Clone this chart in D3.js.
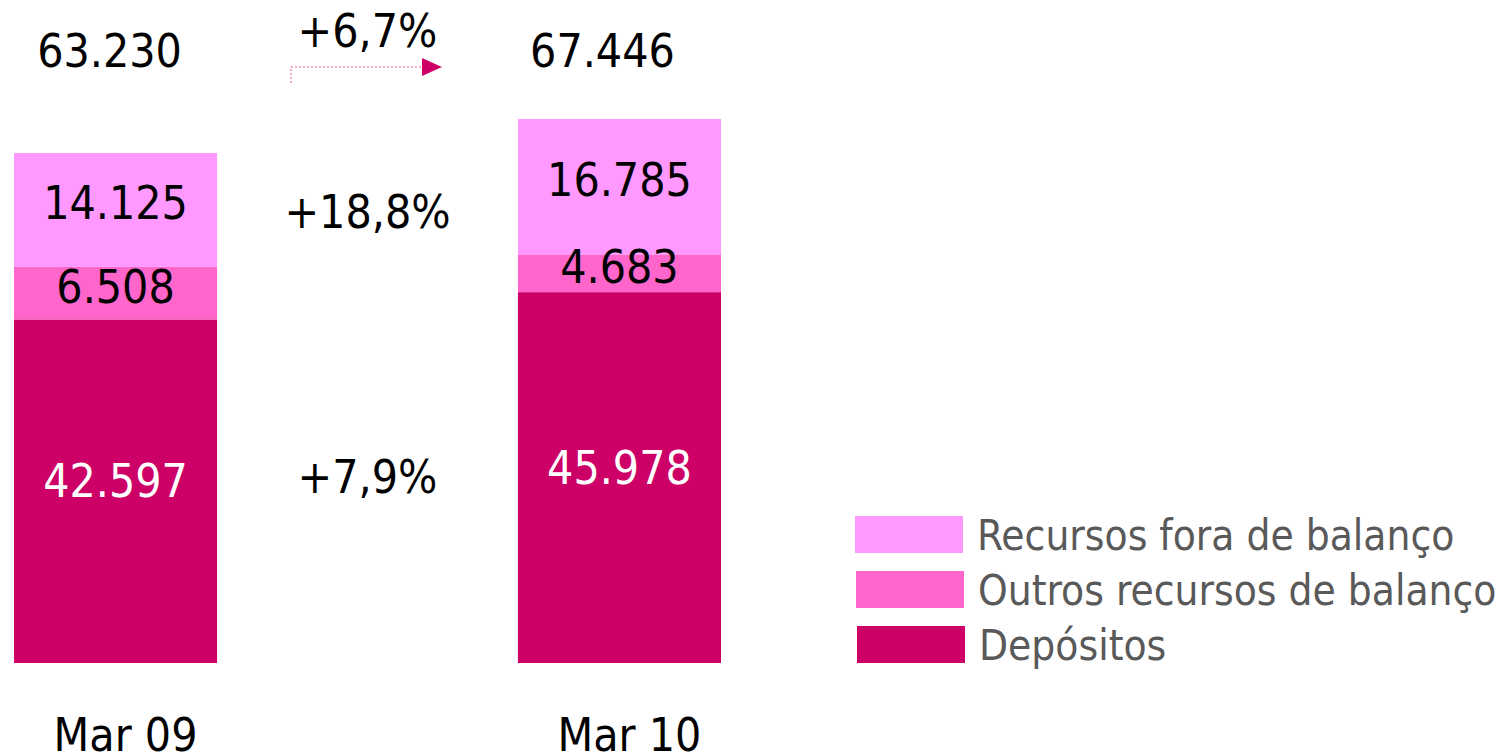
<!DOCTYPE html>
<html>
<head>
<meta charset="utf-8">
<script src="https://cdn.jsdelivr.net/npm/d3@7"></script>
<style>
  body { margin: 0; background: #fff; }
  text { font-family: "Liberation Sans Narrow", "DejaVu Sans Condensed", sans-serif; }
</style>
</head>
<body>
<div id="chart"></div>
<script>
// data
const periods = ["Mar 09", "Mar 10"];
const seriesNames = ["Depósitos", "Outros recursos de balanço", "Recursos fora de balanço"];
const depositos = [42597, 45978];
const outros = [6508, 4683];
const foraBalanco = [14125, 16785];
const totals = ["63.230", "67.446"];
const growthLabels = ["+7,9%", "+18,8%", "+6,7%"];
const colors = ["#CC0066", "#FF66CC", "#FF99FF"];
const labelColors = ["#ffffff", "#000000", "#000000"];

const width = 1503, height = 756;

const svg = d3.select("#chart")
    .append("svg")
    .attr("width", width)
    .attr("height", height);

// build stacked table
const table = periods.map((p, i) => ({
    period: p,
    "Depósitos": depositos[i],
    "Outros recursos de balanço": outros[i],
    "Recursos fora de balanço": foraBalanco[i]
}));
const stacked = d3.stack().keys(seriesNames)(table);

const x = d3.scaleBand()
    .domain(periods)
    .range([14, 721])
    .paddingInner(0.597)
    .paddingOuter(0);

const y = d3.scaleLinear()
    .domain([0, 67446])
    .range([663, 119]);

// bars
const layers = svg.selectAll("g.layer")
    .data(stacked)
    .join("g")
    .attr("class", "layer")
    .attr("fill", (d, i) => colors[i]);

layers.selectAll("rect")
    .data(d => d)
    .join("rect")
    .attr("x", d => x(d.data.period))
    .attr("y", d => y(d[1]))
    .attr("width", x.bandwidth())
    .attr("height", d => y(d[0]) - y(d[1]));

// segment labels
const labelShift = [-10, -6, -7];
stacked.forEach((layer, li) => {
    svg.append("g")
        .selectAll("text")
        .data(layer)
        .join("text")
        .attr("x", d => x(d.data.period) + x.bandwidth() / 2)
        .attr("y", d => (y(d[0]) + y(d[1])) / 2 + labelShift[li])
        .attr("text-anchor", "middle")
        .attr("dominant-baseline", "central")
        .attr("fill", labelColors[li])
        .style("font-size", "46px")
        .text(d => numberWithDots(d[1] - d[0]));
});

// totals above bars
svg.append("g")
    .selectAll("text")
    .data(periods)
    .join("text")
    .attr("x", (d, i) => x(d) + x.bandwidth() / 2 - (i === 0 ? 6 : 17))
    .attr("y", 67)
    .attr("text-anchor", "middle")
    .style("font-size", "46px")
    .attr("fill", "#000")
    .text((d, i) => totals[i]);

// category labels
svg.append("g")
    .selectAll("text")
    .data(periods)
    .join("text")
    .attr("x", d => x(d) + x.bandwidth() / 2 + 10)
    .attr("y", 751)
    .attr("text-anchor", "middle")
    .style("font-size", "46px")
    .attr("fill", "#000")
    .text(d => d);

// growth labels between bars
const midX = (x(periods[0]) + x.bandwidth() + x(periods[1])) / 2;
const growthY = [
    (y(0) + y(depositos[0])) / 2 - 14,
    (y(depositos[0]) + y(depositos[0] + outros[0] + foraBalanco[0])) / 2 - 24,
    47
];
svg.append("g")
    .selectAll("text")
    .data(growthLabels)
    .join("text")
    .attr("x", midX)
    .attr("y", (d, i) => growthY[i])
    .attr("text-anchor", "middle")
    .attr("dominant-baseline", (d, i) => i === 2 ? "auto" : "central")
    .style("font-size", "46px")
    .attr("fill", "#000")
    .text(d => d);

// arrow
svg.append("path")
    .attr("d", "M291,83 V67 H424")
    .attr("fill", "none")
    .attr("stroke", "#E8559A")
    .attr("stroke-width", 1)
    .attr("stroke-dasharray", "2,2");
svg.append("path")
    .attr("d", "M422,58 L442,67 L422,76 Z")
    .attr("fill", "#CC0066");

// legend
const legend = svg.append("g")
    .attr("transform", "translate(855,516)");
const legendItems = seriesNames.slice().reverse();
const legendColors = colors.slice().reverse();
const lg = legend.selectAll("g")
    .data(legendItems)
    .join("g")
    .attr("transform", (d, i) => `translate(${i}, ${i * 55})`);
lg.append("rect")
    .attr("width", 108)
    .attr("height", 37)
    .attr("fill", (d, i) => legendColors[i]);
lg.append("text")
    .attr("x", 122)
    .attr("y", 19)
    .attr("dominant-baseline", "central")
    .attr("fill", "#595959")
    .style("font-size", "42px")
    .text(d => d);

function numberWithDots(v) {
    return v.toString().replace(/\B(?=(\d{3})+(?!\d))/g, ".");
}
</script>
</body>
</html>
